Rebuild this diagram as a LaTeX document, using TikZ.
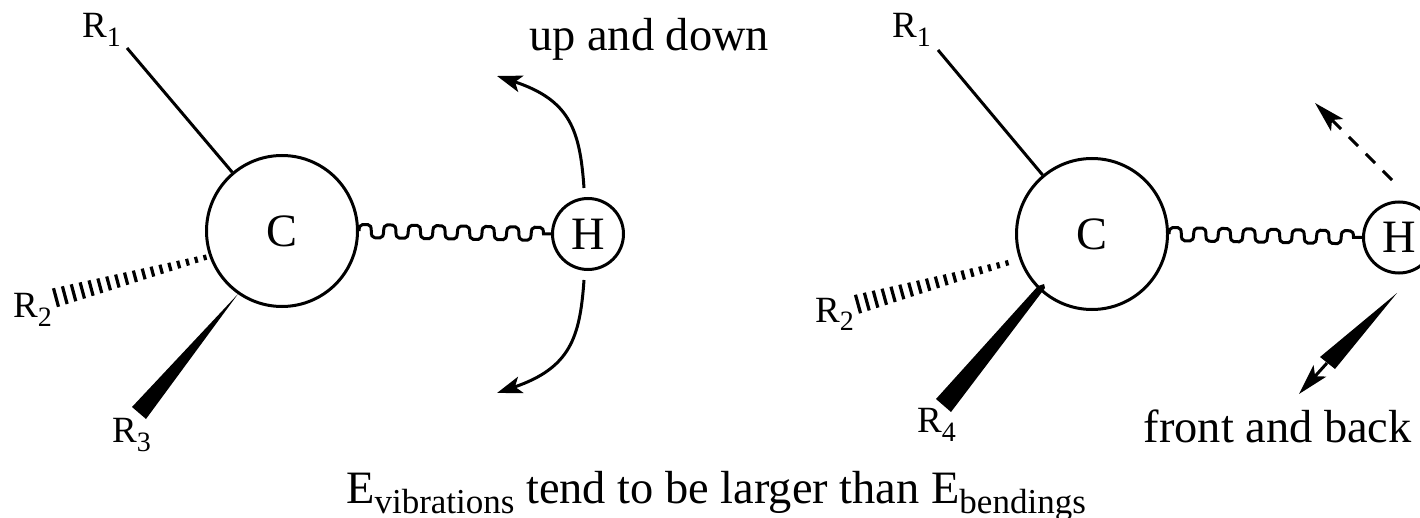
\documentclass[tikz,border=0pt]{standalone}
\usepackage{fontspec}
\setmainfont{Liberation Serif}
\usetikzlibrary{calc,arrows.meta,decorations}
\pgfdeclaredecoration{humps}{up}{
  \state{up}[width=12.3pt,next state=down]{%
    \pgfpathcurveto{\pgfpoint{0pt}{4pt}}{\pgfpoint{1pt}{6.5pt}}{\pgfpoint{3.5pt}{6.5pt}}%
    \pgfpathlineto{\pgfpoint{8.8pt}{6.5pt}}%
    \pgfpathcurveto{\pgfpoint{11.3pt}{6.5pt}}{\pgfpoint{12.3pt}{4pt}}{\pgfpoint{12.3pt}{0pt}}}
  \state{down}[width=12.3pt,next state=up]{%
    \pgfpathcurveto{\pgfpoint{0pt}{-4pt}}{\pgfpoint{1pt}{-6.5pt}}{\pgfpoint{3.5pt}{-6.5pt}}%
    \pgfpathlineto{\pgfpoint{8.8pt}{-6.5pt}}%
    \pgfpathcurveto{\pgfpoint{11.3pt}{-6.5pt}}{\pgfpoint{12.3pt}{-4pt}}{\pgfpoint{12.3pt}{0pt}}}
  \state{final}{\pgfpathlineto{\pgfpointdecoratedpathlast}}
}
\newcommand{\bigfont}{\fontsize{46.4}{46.4}\selectfont}
\newcommand{\smallfont}{\fontsize{37}{37}\selectfont}
\newcommand{\Rlabel}[1]{\smallfont R\raisebox{-9pt}{\fontsize{28}{28}\selectfont #1}}
\newcommand{\Esub}[1]{\raisebox{-10pt}{\fontsize{35}{35}\selectfont #1}}
% hashed bond: start x,y  end x,y  (pixels)
\newcommand{\hashbond}[4]{%
  \pgfmathsetmacro{\lenhb}{veclen(#3-#1,#4-#2)}
  \pgfmathsetmacro{\uxhb}{(#3-#1)/\lenhb}
  \pgfmathsetmacro{\uyhb}{(#4-#2)/\lenhb}
  \foreach \i in {0,...,17}{
    \pgfmathsetmacro{\px}{#1+(#3-#1)*\i/17}
    \pgfmathsetmacro{\py}{#2+(#4-#2)*\i/17}
    \pgfmathsetmacro{\hh}{2.7+6.9*\i/17}
    \draw[tick] ({\px-\uyhb*\hh},{\py+\uxhb*\hh}) -- ({\px+\uyhb*\hh},{\py-\uxhb*\hh});
  }%
}
\tikzset{
  x=1pt,y=-1pt,
  bigatom/.style={circle,draw,line width=3pt,minimum size=151pt,inner sep=0pt,font=\bigfont,fill=white},
  smallatom/.style={circle,draw,line width=3pt,minimum size=71pt,inner sep=0pt,font=\bigfont,fill=white},
  bondline/.style={line width=3pt},
  wavebond/.style={line width=3pt,decorate,decoration={humps}},
  wedge/.style={fill=black,draw=none},
  tick/.style={line width=3.2pt},
  rlabel/.style={anchor=base west,inner sep=0pt},
  caption/.style={anchor=base west,inner sep=0pt,font=\bigfont},
  curvearrow/.style={line width=3pt,-{Stealth[length=25pt,width=17pt,inset=6pt]}},
  longarrow/.style={line width=3pt,-{Stealth[length=31pt,width=17pt,inset=7pt]}},
}
\begin{document}
\begin{tikzpicture}
\useasboundingbox (0,0) rectangle (1420,518);
\clip (0,0) rectangle (1420,518);
\fill[white] (0,0) rectangle (1420,518);

% ---------- left molecule
\node[bigatom] (Cl) at (282,231) {C};
\node[smallatom] (Hl) at (588,234) {H};
\draw[wavebond] (Cl.east) -- (Hl.west);

\coordinate (r1l) at (127,48);
\draw[bondline] (Cl) -- (r1l);
\node[rlabel] (R1l) at (82,38) {\Rlabel{1}};

\hashbond{205}{257.5}{56}{297.5}
\node[rlabel] (R2l) at (13,317) {\Rlabel{2}};

\coordinate (t3l) at (238,294);
\fill[wedge] (t3l) -- (132,407) -- (146,419) -- cycle;
\node[rlabel] (R3l) at (112,442) {\Rlabel{3}};

\coordinate (ua) at (584,188);
\coordinate (ub) at (497,76);
\coordinate (da) at (584,280);
\coordinate (db) at (497,393);
\draw[curvearrow] (ua) .. controls (580,130) and (570,100) .. (ub);
\draw[curvearrow] (da) .. controls (580,338) and (570,368) .. (db);
\node[caption] (ud) at (529,51) {up and down};

% ---------- right molecule
\node[bigatom] (Cr) at (1092,234) {C};
\node[smallatom] (Hr) at (1399,237.5) {H};
\draw[wavebond] (Cr.east) -- (Hr.west);

\coordinate (r1r) at (938,50);
\draw[bondline] (Cr) -- (r1r);
\node[rlabel] (R1r) at (892,38) {\Rlabel{1}};

\hashbond{1007}{263}{858}{304}
\node[rlabel] (R2r) at (815,322) {\Rlabel{2}};

\fill[wedge] (1038,286) -- (1044,284) -- (1045,288) -- (951,412) -- (936,399) -- cycle;
\node[rlabel] (R4r) at (917,432) {\Rlabel{4}};

\coordinate (fa) at (1392,180);
\coordinate (fb) at (1315,103);
\draw[longarrow,dash pattern=on 13pt off 11pt] (fa) -- (fb);

\coordinate (ga) at (1397,293);
\coordinate (gb) at (1327,363);
\coordinate (gc) at (1299,394);
\fill[wedge] (ga) -- (1320,357) -- (1335,369) -- cycle;
\draw[longarrow] (gb) -- (gc);
\node[caption] (fb2) at (1143.5,442) {front and back};

\node[caption] (bottom) at (346,503) {E\Esub{vibrations} tend to be larger than E\Esub{bendings}};
\end{tikzpicture}
\end{document}
